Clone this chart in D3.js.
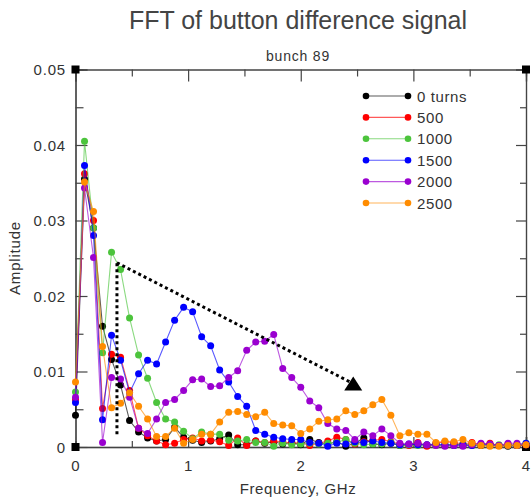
<!DOCTYPE html>
<html><head><meta charset="utf-8">
<script src="https://cdn.jsdelivr.net/npm/d3@7"></script>
<style>
html,body{margin:0;padding:0;background:#fff;}
svg{display:block;}
text{font-family:"Liberation Sans",Arial,sans-serif;fill:#333;}
</style></head>
<body>
<svg id="chart" width="531" height="501"></svg>
<script>
// ---- data ----
const freqs = [0,0.08,0.16,0.24,0.32,0.40,0.48,0.56,0.64,0.72,0.80,0.88,0.96,1.04,1.12,1.20,1.28,1.36,1.44,1.52,1.60,1.68,1.76,1.84,1.92,2.00,2.08,2.16,2.24,2.32,2.40,2.48,2.56,2.64,2.72,2.80,2.88,2.96,3.04,3.12,3.20,3.28,3.36,3.44,3.52,3.60,3.68,3.76,3.84,3.92,4.00];
const seriesNames = ["0 turns","500","1000","1500","2000","2500"];
const turns0 = [0.0042,0.0355,0.029,0.016,0.0116,0.0082,0.0035,0.002,0.0012,0.0008,0.001,0.0026,0.0013,0.0009,0.0006,0.0008,0.0011,0.0016,0.0003,0.0003,0.0008,0.0005,0.0007,0.0004,0.0006,0.0003,0.001,0.0006,0.0004,0.0007,0.0001,0.0005,0.0012,0.0004,0.0003,0.0005,0.0002,0.0003,0.0004,0.0002,0.0003,0.0002,0.0004,0.0002,0.0003,0.0002,0.0003,0.0002,0.0001,0.0002,0.0002];
const turns500 = [0.0063,0.0362,0.03,0.0051,0.0123,0.0119,0.0075,0.0025,0.0015,0.0008,0.0003,0.0005,0.001,0.0012,0.0008,0.0009,0.0007,0.0002,0.0012,0.0002,0.0008,0.0006,0.0008,0.0007,0.0005,0.0006,0.0002,0.0005,0.0008,0.0013,0.001,0.0004,0.0007,0.0009,0.001,0.0007,0.0004,0.0002,0.0006,0.0001,0.0005,0.0007,0.0006,0.0004,0.0006,0.0003,0.0005,0.0002,0.0004,0.0002,0.0003];
const turns1000 = [0.0073,0.0405,0.029,0.0125,0.0258,0.0235,0.0171,0.0122,0.0091,0.0059,0.0037,0.0033,0.0021,0.0011,0.002,0.0017,0.0017,0.0009,0.0008,0.001,0.0006,0.0006,0.0001,0.0005,0.0003,0.0004,0.0005,0.0004,0.0005,0.0006,0.001,0.0005,0.0003,0.0004,0.0004,0.0006,0.0002,0.0003,0.0002,0.0003,0.0002,0.0003,0.0002,0.0004,0.0002,0.0003,0.0002,0.0003,0.0002,0.0003,0.0005];
const turns1500 = [0.0059,0.0373,0.028,0.0036,0.0148,0.0115,0.0072,0.0097,0.0115,0.011,0.0139,0.0168,0.0185,0.0179,0.0146,0.0134,0.0102,0.0086,0.0067,0.0054,0.0022,0.0017,0.0013,0.0011,0.001,0.001,0.0006,0.0005,0.0001,0.0005,0.0004,0.0007,0.0006,0.0008,0.0006,0.0005,0.0003,0.0004,0.0003,0.0003,0.0004,0.0003,0.0002,0.0003,0.0002,0.0004,0.0003,0.0002,0.0002,0.0002,0.0005];
const turns2000 = [0.0066,0.0343,0.0251,0.0006,0.0092,0.009,0.0066,0.0025,0.0018,0.0037,0.0059,0.0063,0.0075,0.0089,0.009,0.008,0.0081,0.0092,0.0101,0.0128,0.0139,0.014,0.0149,0.0104,0.0092,0.0079,0.0061,0.0052,0.0031,0.0024,0.0022,0.001,0.002,0.0015,0.0024,0.0015,0.0005,0.0004,0.0005,0.0003,0.0002,0.0001,0.0002,0.0001,0.0003,0.0005,0.0004,0.0002,0.0005,0.0005,0.0003];
const turns2500 = [0.0086,0.0351,0.0312,0.0133,0.0052,0.0058,0.0072,0.0054,0.0037,0.0014,0.0014,0.0025,0.0005,0.001,0.0017,0.0017,0.0033,0.0046,0.0047,0.0043,0.004,0.0046,0.0031,0.0029,0.0028,0.0018,0.0024,0.0034,0.0036,0.0037,0.0048,0.0043,0.0048,0.0056,0.0063,0.0042,0.0015,0.0019,0.0017,0.0017,0.0006,0.0008,0.0007,0.001,0.0005,0.0002,0.0001,0.0001,0.0002,0.0002,0.0003];
const seriesValues = [turns0, turns500, turns1000, turns1500, turns2000, turns2500];
const seriesColors = ["#000000","#ff0000","#4cc43c","#0000ff","#9a00d0","#ff8c00"];
const xTicks = [0,1,2,3,4];
const xMinorTicks = [0.5,1.5,2.5,3.5];
const yTicks = [0,0.01,0.02,0.03,0.04,0.05];
const yTickLabels = ["0","0.01","0.02","0.03","0.04","0.05"];
const yMinorTicks = [0.005,0.015,0.025,0.035,0.045];
// annotation (data units): vertical dotted marker and dotted arrow
const markerX = [0.368, 0.368];
const markerY = [0.0017, 0.0244];
const arrowX = [0.368, 2.466];
const arrowY = [0.0244, 0.0084];

// ---- drawing ----
const svg = d3.select("#chart");
const x = d3.scaleLinear().domain([0,4]).range([75.5,526]);
const y = d3.scaleLinear().domain([0,0.05]).range([447,69.5]);
const X0 = x(0), X1 = x(4), Y0 = y(0), Y1 = y(0.05);

// title
svg.append("text").attr("x",298).attr("y",29).attr("text-anchor","middle")
  .style("font-size","25px").style("fill","#444").text("FFT of button difference signal");
svg.append("text").attr("x",298).attr("y",61).attr("text-anchor","middle")
  .style("font-size","14px").style("letter-spacing","0.8px").text("bunch 89");

// axes with inward ticks
const gL = svg.append("g").attr("transform",`translate(${X0},0)`)
  .call(d3.axisRight(y).tickValues(yTicks).tickSize(12).tickFormat(""));
const gLm = svg.append("g").attr("transform",`translate(${X0},0)`)
  .call(d3.axisRight(y).tickValues(yMinorTicks).tickSize(8).tickFormat(""));
const gR = svg.append("g").attr("transform",`translate(${X1},0)`)
  .call(d3.axisLeft(y).tickValues(yTicks).tickSize(10).tickFormat(""));
const gRm = svg.append("g").attr("transform",`translate(${X1},0)`)
  .call(d3.axisLeft(y).tickValues(yMinorTicks).tickSize(6).tickFormat(""));
const gB = svg.append("g").attr("transform",`translate(0,${Y0})`)
  .call(d3.axisTop(x).tickValues(xTicks).tickSize(10).tickFormat(""));
const gBm = svg.append("g").attr("transform",`translate(0,${Y0})`)
  .call(d3.axisTop(x).tickValues(xMinorTicks).tickSize(6).tickFormat(""));
const gT = svg.append("g").attr("transform",`translate(0,${Y1})`)
  .call(d3.axisBottom(x).tickValues(xTicks).tickSize(12).tickFormat(""));
const gTm = svg.append("g").attr("transform",`translate(0,${Y1})`)
  .call(d3.axisBottom(x).tickValues(xMinorTicks).tickSize(7).tickFormat(""));
[gL,gLm,gR,gRm,gB,gBm,gT,gTm].forEach(g=>{
  g.selectAll(".domain").attr("stroke","#444").attr("stroke-width",1.2);
  g.selectAll(".tick line").attr("stroke","#444").attr("stroke-width",1.2);
});
gB.select(".domain").attr("stroke","#888").attr("stroke-width",2);

// tick labels
svg.append("g").selectAll("text").data(yTicks).join("text")
  .attr("x",66).attr("y",d=>y(d)+5.5).attr("text-anchor","end")
  .style("font-size","15px").style("letter-spacing","0.8px")
  .text((d,i)=>yTickLabels[i]);
svg.append("g").selectAll("text").data(xTicks).join("text")
  .attr("x",d=>x(d)).attr("y",471).attr("text-anchor","middle")
  .style("font-size","15px").text(d=>d3.format("d")(d));

// axis titles
svg.append("text").attr("x",298).attr("y",494).attr("text-anchor","middle")
  .style("font-size","15px").style("letter-spacing","0.6px").text("Frequency, GHz");
svg.append("text").attr("transform","translate(20,258) rotate(-90)").attr("text-anchor","middle")
  .style("font-size","15px").style("letter-spacing","0.8px").text("Amplitude");

// corner squares
const corners = [[X0,Y1],[X1,Y1],[X0,Y0],[X1,Y0]];
svg.append("g").selectAll("rect").data(corners).join("rect")
  .attr("x",d=>d[0]-4).attr("y",d=>d[1]-4).attr("width",8).attr("height",8).attr("fill","#000");

// series
const line = d3.line().x((d,i)=>x(freqs[i])).y(d=>y(d));
seriesValues.forEach((vals,k)=>{
  const g = svg.append("g");
  g.append("path").datum(vals).attr("d",line).attr("fill","none")
    .attr("stroke",seriesColors[k]).attr("stroke-width",1.1).attr("stroke-opacity",0.65);
  g.selectAll("circle").data(vals).join("circle")
    .attr("cx",(d,i)=>x(freqs[i])).attr("cy",d=>y(d)).attr("r",3.5).attr("fill",seriesColors[k]);
});

// annotation: dotted lines + triangle head
const dotted = d3.line().x(d=>x(d[0])).y(d=>y(d[1]));
svg.append("path").datum(markerX.map((v,i)=>[v,markerY[i]])).attr("d",dotted)
  .attr("fill","none").attr("stroke","#000").attr("stroke-width",3).attr("stroke-dasharray","3,3");
svg.append("path").datum(arrowX.map((v,i)=>[v,arrowY[i]])).attr("d",dotted)
  .attr("fill","none").attr("stroke","#000").attr("stroke-width",3).attr("stroke-dasharray","3,3");
const tx = x(arrowX[1]), ty = y(arrowY[1]);
svg.append("path").attr("d",`M${tx},${ty-7} L${tx+9},${ty+7} L${tx-9},${ty+7} Z`).attr("fill","#000");

// legend
const leg = svg.append("g");
seriesNames.forEach((name,k)=>{
  const yy = 96 + k*21.4;
  leg.append("line").attr("x1",366).attr("x2",408).attr("y1",yy).attr("y2",yy)
    .attr("stroke",seriesColors[k]).attr("stroke-width",1.1).attr("stroke-opacity",0.65);
  leg.append("circle").attr("cx",366).attr("cy",yy).attr("r",3.3).attr("fill",seriesColors[k]);
  leg.append("circle").attr("cx",408).attr("cy",yy).attr("r",3.3).attr("fill",seriesColors[k]);
  leg.append("text").attr("x",417).attr("y",yy+5.5).style("font-size","15px")
    .style("letter-spacing","0.6px").text(name);
});
</script>
</body></html>
